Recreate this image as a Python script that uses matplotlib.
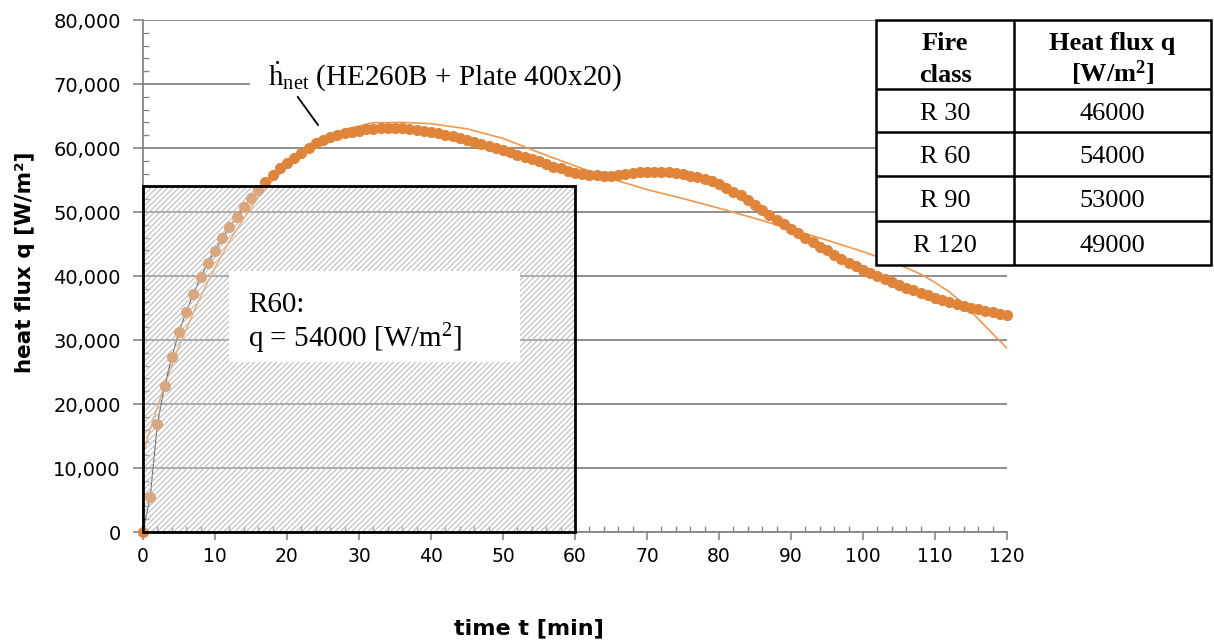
import numpy as np
import matplotlib.pyplot as plt
from matplotlib.patches import Rectangle
from matplotlib.ticker import MultipleLocator, FuncFormatter

plt.rcParams['mathtext.fontset'] = 'custom'
plt.rcParams['mathtext.rm'] = 'Liberation Serif'
plt.rcParams['mathtext.it'] = 'Liberation Serif:italic'
plt.rcParams['mathtext.bf'] = 'Liberation Serif:bold'
plt.rcParams['hatch.linewidth'] = 0.7

# net heat flux, one value per minute (0..120 min)
time_min = np.arange(0, 121)
q_net = [0, 5500, 16900, 22800, 27300, 31250, 34400, 37200, 39800, 42000,
         43900, 45900, 47700, 49200, 50800, 52200, 53400, 54700, 55800, 56900,
         57700, 58400, 59200, 60000, 60800, 61250, 61700, 62000, 62300, 62500,
         62700, 62900, 63000, 63100, 63100, 63100, 63050, 63000, 62850, 62650,
         62500, 62300, 62050, 61800, 61600, 61300, 61000, 60700, 60300, 60000,
         59700, 59300, 58900, 58600, 58300, 57900, 57500, 57100, 56800, 56400,
         56150, 55950, 55850, 55800, 55700, 55650, 55800, 56000, 56100, 56200,
         56250, 56250, 56250, 56200, 56100, 55900, 55700, 55500, 55100, 54800,
         54400, 53800, 53200, 52600, 51800, 51100, 50300, 49500, 48800, 48200,
         47400, 46700, 46000, 45300, 44600, 44000, 43300, 42700, 42100, 41500,
         41000, 40500, 40000, 39500, 39100, 38600, 38200, 37800, 37400, 37000,
         36600, 36200, 35900, 35600, 35300, 35000, 34800, 34500, 34300, 34100,
         33900]

# trendline
trend_t = [0, 1, 2, 3, 4, 5, 6, 8, 10, 12, 14, 16, 18, 20, 24, 28, 32, 36, 40,
           45, 50, 55, 60, 65, 70, 75, 80, 85, 90, 95, 100, 102, 104, 106, 108,
           110, 112, 114, 116, 118, 120]
trend_q = [12200, 16000, 19500, 23000, 26000, 29000, 31700, 36800, 41300, 45400,
           49000, 52300, 55000, 57000, 60800, 62900, 63950, 64000, 63800, 63000,
           61500, 59300, 57200, 55200, 53500, 52100, 50600, 49000, 47300, 45600,
           43800, 43000, 42200, 41300, 40300, 39000, 37500, 35600, 33300, 31000,
           28700]

# fire class table
fire_class = ['R 30', 'R 60', 'R 90', 'R 120']
fire_q = ['46000', '54000', '53000', '49000']

r60_time = 60
r60_q = 54000

grey = '#868686'
orange = '#E0843A'

fig = plt.figure(figsize=(12.14, 6.4), dpi=100)
ax = fig.add_axes([143/1214, 108/640, 864/1214, 512/640])

ax.set_xlim(0, 120)
ax.set_ylim(0, 80000)
ax.set_yticks(range(0, 80001, 10000))
ax.set_xticks(range(0, 121, 10))
ax.yaxis.set_minor_locator(MultipleLocator(2000))
ax.xaxis.set_minor_locator(MultipleLocator(2))
ax.yaxis.set_major_formatter(FuncFormatter(lambda v, p: f'{v:,.0f}'))
ax.yaxis.grid(True, color=grey, lw=1.3)
ax.set_axisbelow(True)
for s in ['top', 'right']:
    ax.spines[s].set_visible(False)
for s in ['left', 'bottom']:
    ax.spines[s].set_color(grey)
    ax.spines[s].set_linewidth(1.3)
ax.tick_params(axis='y', which='major', direction='out', length=7, width=1.2,
               color=grey, labelsize=14, pad=9)
ax.tick_params(axis='x', which='major', direction='out', length=6, width=1.2,
               color=grey, labelsize=13.5, pad=5)
ax.tick_params(which='minor', direction='in', length=4.5, width=1, color=grey)

ax.set_xlabel('time t [min]', fontsize=16, fontweight='bold')
ax.xaxis.set_label_coords((529-143)/864, -0.168)
ax.set_ylabel('heat flux q [W/m²]', fontsize=15.5, fontweight='bold')
ax.yaxis.set_label_coords(-0.125, 0.527)

# data
ax.plot(trend_t, trend_q, color='#F7964A', lw=1.2, zorder=2)
ax.plot(time_min, q_net, color='#333333', lw=0.8, zorder=2.1)
ax.plot(time_min, q_net, ls='none', marker='o', ms=7, color=orange,
        mec=orange, zorder=2.2, clip_on=False)

# hatched R60 area
ax.add_patch(Rectangle((0, 0), r60_time, r60_q, facecolor=(1, 1, 1, 0.25),
                       edgecolor='#b4b4b4', hatch='//////', lw=0, zorder=3))
ax.add_patch(Rectangle((0, 0), r60_time, r60_q, facecolor='none',
                       edgecolor='black', lw=2, zorder=4, clip_on=False))

# R60 label box
ax.add_patch(Rectangle((12.0, 26600), 40.3, 14200, facecolor='white',
                       edgecolor='none', zorder=4))
ax.text(14.6, 34300, 'R60:', fontsize=21, family='Liberation Serif',
        va='baseline', zorder=5)
ax.text(14.6, 28800, 'q = 54000 [W/m$^2$]', fontsize=21,
        family='Liberation Serif', va='baseline', zorder=5)

# curve annotation
ax.add_patch(Rectangle((14.9, 67500), 87, 8600, facecolor='white',
                       edgecolor='none', zorder=1))
ax.text(17.4, 69840, 'ḣ$_{\\mathrm{net}}$ (HE260B + Plate 400x20)', fontsize=21,
        family=['Liberation Serif', 'DejaVu Serif'], va='baseline', zorder=5)
ax.plot([21.5, 24.3], [67970, 63600], color='black', lw=1.3, zorder=5)

# table
tab = fig.add_axes([876/1214, (640-265)/640, 335/1214, 245/640])
tab.set_xlim(0, 335)
tab.set_ylim(245, 0)
tab.axis('off')
tab.add_patch(Rectangle((0, 0), 335, 245, facecolor='white', edgecolor='black',
                        lw=1.8, clip_on=False))
row_tops = [69, 112, 156, 201]
for y in row_tops:
    tab.plot([0, 335], [y, y], color='black', lw=1.8)
tab.plot([138, 138], [0, 245], color='black', lw=1.8)
hdr = dict(ha='center', va='baseline', fontsize=19, fontweight='bold',
           family='Liberation Serif')
tab.text(69, 30, 'Fire', **hdr)
tab.text(69, 61.5, 'class', **hdr)
tab.text(236.5, 30, 'Heat flux q', **hdr)
tab.text(236.5, 61.5, '[W/m$^\\mathbf{2}$]', **hdr)
for c, q, y in zip(fire_class, fire_q, row_tops):
    tab.text(69, y + 31, c, ha='center', va='baseline', fontsize=19,
             family='Liberation Serif')
    tab.text(236.5, y + 31, q, ha='center', va='baseline', fontsize=19,
             family='Liberation Serif')

fig.savefig('out.png', dpi=100)
